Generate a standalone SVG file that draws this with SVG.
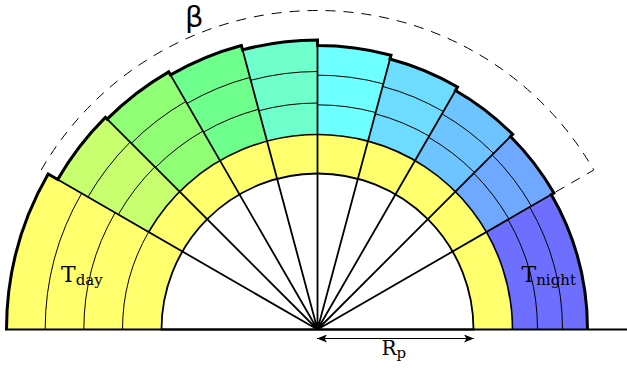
<svg xmlns="http://www.w3.org/2000/svg" width="627" height="370" viewBox="0 0 627 370">
<defs>
<style>
.layer{fill:none;stroke:#000;stroke-width:1}
.rad{stroke:#000;stroke-width:1.8;fill:none}
.lbl{font-family:"DejaVu Serif","Liberation Serif",serif;fill:#000}
</style>
<marker id="ah" viewBox="0 0 10 8" refX="10" refY="4" markerWidth="10" markerHeight="8" markerUnits="userSpaceOnUse" orient="auto-start-reverse">
<path d="M0,0 L10,4 L0,8 L2.5,4 Z" fill="#000"/>
</marker>
</defs>
<rect width="627" height="370" fill="#fff"/>
<g id="sectors" stroke="none">
<path id="night" d="M317.5,329.5 L587.5,329.5 A270,270 0 0 0 551.33,194.5 Z" fill="#6e6eff"/>
<path id="s30" d="M317.5,329.5 L553.93,193 A273,273 0 0 0 510.54,136.46 Z" fill="#6ea8ff"/>
<path id="s45" d="M317.5,329.5 L512.66,134.34 A276,276 0 0 0 455.5,90.48 Z" fill="#6ec4ff"/>
<path id="s60" d="M317.5,329.5 L457.5,87.01 A280,280 0 0 0 389.97,59.04 Z" fill="#6edcff"/>
<path id="s75" d="M317.5,329.5 L391,55.18 A284,284 0 0 0 317.5,45.5 Z" fill="#6effff"/>
<path id="s90" d="M317.5,329.5 L317.5,40 A289.5,289.5 0 0 0 242.57,49.86 Z" fill="#6effcc"/>
<path id="s105" d="M317.5,329.5 L241.41,45.52 A294,294 0 0 0 170.5,74.89 Z" fill="#6eff8c"/>
<path id="s120" d="M317.5,329.5 L168.75,71.86 A297.5,297.5 0 0 0 107.14,119.14 Z" fill="#91ff76"/>
<path id="s135" d="M317.5,329.5 L105.37,117.37 A300,300 0 0 0 57.69,179.5 Z" fill="#c8ff6e"/>
<path id="day" d="M317.5,329.5 L48.17,174 A311,311 0 0 0 6.5,329.5 Z" fill="#ffff6e"/>
</g>
<g id="ring">
<path d="M122.5,329.5 A195,195 0 0 1 512.5,329.5 Z" fill="#ffff6e"/>
<path d="M161.5,329.5 A156,156 0 0 1 473.5,329.5 Z" fill="#fff" stroke="#000" stroke-width="1.8"/>
<path d="M512.5,329.5 A195,195 0 0 0 148.62,232" fill="none" stroke="#000" stroke-width="1.6"/>
<path d="M148.62,232 A195,195 0 0 0 122.5,329.5" class="layer"/>
</g>
<g id="layers">
<path class="layer" d="M537.5,329.5 A220,220 0 0 0 508.03,219.5 M562.5,329.5 A245,245 0 0 0 529.68,207"/>
<path class="layer" d="M508.89,219 A221,221 0 0 0 473.77,173.23 M531.41,206 A247,247 0 0 0 492.16,154.84"/>
<path class="layer" d="M474.48,172.52 A222,222 0 0 0 428.5,137.24 M493.57,153.43 A249,249 0 0 0 442,113.86"/>
<path class="layer" d="M429.17,136.09 A223.33,223.33 0 0 0 375.3,113.78 M443.33,111.55 A251.67,251.67 0 0 0 382.64,86.41"/>
<path class="layer" d="M375.65,112.49 A224.67,224.67 0 0 0 317.5,104.83 M383.33,83.83 A254.33,254.33 0 0 0 317.5,75.17"/>
<path class="layer" d="M317.5,103 A226.5,226.5 0 0 0 258.88,110.72 M317.5,71.5 A258,258 0 0 0 250.72,80.29"/>
<path class="layer" d="M258.49,109.27 A228,228 0 0 0 203.5,132.05 M249.95,77.39 A261,261 0 0 0 187,103.47"/>
<path class="layer" d="M202.92,131.04 A229.17,229.17 0 0 0 155.46,167.46 M185.83,101.45 A263.33,263.33 0 0 0 131.3,143.3"/>
<path class="layer" d="M154.87,166.87 A230,230 0 0 0 118.31,214.5 M130.12,142.12 A265,265 0 0 0 88,197"/>
<path class="layer" d="M115.14,212.67 A233.67,233.67 0 0 0 83.83,329.5 M81.65,193.33 A272.33,272.33 0 0 0 45.17,329.5"/>
</g>
<g id="connectors">
<path class="rad" d="M317.5,329.5 L553.93,193 M317.5,329.5 L512.66,134.34 M317.5,329.5 L457.5,87.01 M317.5,329.5 L391,55.18 M317.5,329.5 L317.5,40 M317.5,329.5 L241.41,45.52 M317.5,329.5 L168.75,71.86 M317.5,329.5 L105.37,117.37 M317.5,329.5 L48.17,174"/>
<path id="outline" fill="none" stroke="#000" stroke-width="3" stroke-linejoin="miter" d="M587.5,329.5 A270,270 0 0 0 551.33,194.5 L553.93,193 A273,273 0 0 0 510.54,136.46 L512.66,134.34 A276,276 0 0 0 455.5,90.48 L457.5,87.01 A280,280 0 0 0 389.97,59.04 L391,55.18 A284,284 0 0 0 317.5,45.5 L317.5,40 A289.5,289.5 0 0 0 242.57,49.86 L241.41,45.52 A294,294 0 0 0 170.5,74.89 L168.75,71.86 A297.5,297.5 0 0 0 107.14,119.14 L105.37,117.37 A300,300 0 0 0 57.69,179.5 L48.17,174 A311,311 0 0 0 6.5,329.5"/>
<line x1="5" y1="329.5" x2="627" y2="329.5" stroke="#000" stroke-width="2"/>
<path id="beta-arc" d="M41.24,170 A319,319 0 0 1 593.76,170 L553.93,193" fill="none" stroke="#000" stroke-width="1" stroke-dasharray="10,8"/>
<line id="rp-arrow" x1="317" y1="338.5" x2="474" y2="338.5" stroke="#000" stroke-width="1" marker-start="url(#ah)" marker-end="url(#ah)"/>
</g>
<g id="labels">
<text x="185" y="27" font-family="DejaVu Sans, sans-serif" font-size="29">β</text>
<text class="lbl" x="61" y="281.5" font-size="22">T<tspan font-size="15" dy="3.5">day</tspan></text>
<text class="lbl" x="521.5" y="281.5" font-size="22">T<tspan font-size="15" dy="3.5">night</tspan></text>
<text class="lbl" x="381.5" y="355" font-size="20">R<tspan font-size="15" dy="3">p</tspan></text>
</g>
</svg>
